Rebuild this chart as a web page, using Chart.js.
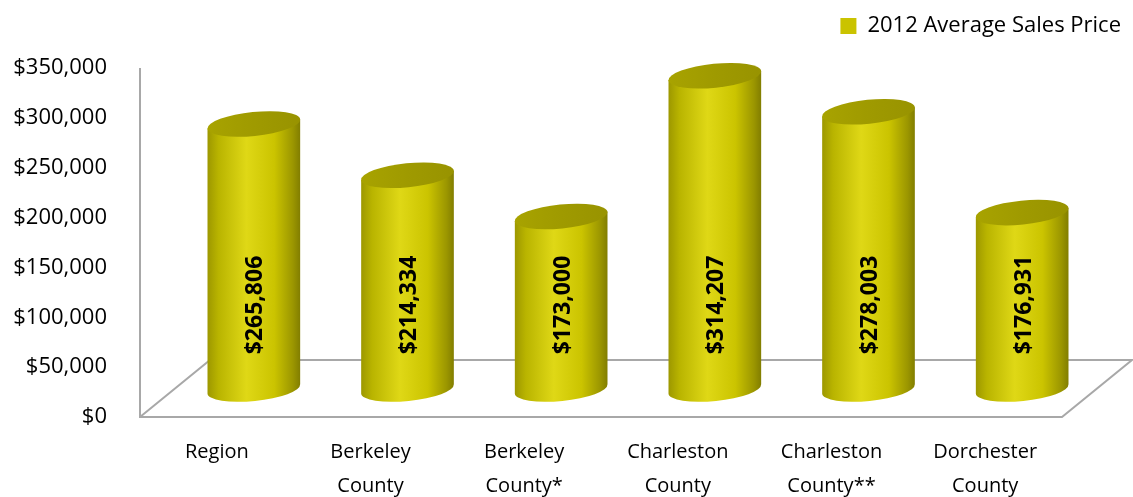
<!DOCTYPE html>
<html>
<head>
<meta charset="utf-8">
<script src="https://cdn.jsdelivr.net/npm/chart.js@4"></script>
<style>
  html, body { margin: 0; background: #fff; }
  #wrap { width: 1133px; height: 497px; }
</style>
</head>
<body>
<div id="wrap"><canvas id="chart"></canvas></div>
<script>
const categories = [
  ['Region'],
  ['Berkeley', 'County'],
  ['Berkeley', 'County*'],
  ['Charleston', 'County'],
  ['Charleston', 'County**'],
  ['Dorchester', 'County']
];
const avgPrice = [265806, 214334, 173000, 314207, 278003, 176931];
const seriesName = '2012 Average Sales Price';
const yMin = 0, yMax = 350000, yStep = 50000;

const money = v => '$' + Number(v).toLocaleString('en-US');
const FONT = '"Open Sans", "Noto Sans", sans-serif';

// draws the 3d floor and the cylinders in place of flat bars
const cylinders = {
  id: 'cylinders',
  beforeDatasetsDraw(chart) {
    const { ctx, scales: { x, y } } = chart;
    const data = chart.data.datasets[0].data;
    const floor = y.getPixelForValue(0);
    const backX = 70, backY = 57;   // depth of the floor
    const midX = 37, midY = 28;     // cylinders stand half way back

    ctx.save();
    ctx.strokeStyle = '#a8a8a8';
    ctx.lineWidth = 2;
    ctx.beginPath();
    ctx.moveTo(x.left, y.top);
    ctx.lineTo(x.left, floor);
    ctx.lineTo(x.right, floor);
    ctx.lineTo(x.right + backX, floor - backY);
    ctx.lineTo(x.left + backX, floor - backY);
    ctx.lineTo(x.left, floor);
    ctx.stroke();

    const step = x.getPixelForValue(1) - x.getPixelForValue(0);
    const rx = step * 0.303, ry = 12, rot = -0.1;
    const ex = rx * Math.cos(rot), ey = rx * Math.sin(rot);

    data.forEach((v, i) => {
      const cx = x.getPixelForValue(i) + midX;
      const by = floor - midY;
      const ty = y.getPixelForValue(v) - midY;

      const g = ctx.createLinearGradient(cx - rx, 0, cx + rx, 0);
      g.addColorStop(0, '#9c9700');
      g.addColorStop(0.12, '#b9b400');
      g.addColorStop(0.42, '#dfd816');
      g.addColorStop(0.72, '#cbc400');
      g.addColorStop(0.92, '#9b9600');
      g.addColorStop(1, '#817d00');
      ctx.fillStyle = g;
      ctx.beginPath();
      ctx.ellipse(cx, by, rx, ry, rot, 0, Math.PI);
      ctx.lineTo(cx - ex, ty - ey);
      ctx.lineTo(cx + ex, ty + ey);
      ctx.closePath();
      ctx.fill();

      const gt = ctx.createLinearGradient(cx - rx, 0, cx + rx, 0);
      gt.addColorStop(0, '#a8a300');
      gt.addColorStop(0.5, '#9f9a00');
      gt.addColorStop(1, '#989300');
      ctx.fillStyle = gt;
      ctx.beginPath();
      ctx.ellipse(cx, ty, rx, ry, rot, 0, Math.PI * 2);
      ctx.fill();

      ctx.save();
      ctx.translate(cx + 2, floor - 112);
      ctx.rotate(-Math.PI / 2);
      ctx.fillStyle = '#000';
      ctx.font = 'bold 23px ' + FONT;
      ctx.textAlign = 'center';
      ctx.textBaseline = 'middle';
      ctx.fillText(money(v), 0, 0);
      ctx.restore();
    });
    ctx.restore();
    return false;
  }
};

new Chart(document.getElementById('chart').getContext('2d'), {
  type: 'bar',
  data: {
    labels: categories,
    datasets: [{
      label: seriesName,
      data: avgPrice,
      backgroundColor: '#cac300',
      borderWidth: 0,
      yAxisID: 'y'
    }]
  },
  options: {
    responsive: true,
    maintainAspectRatio: false,
    animation: false,
    layout: { padding: { top: 3, left: 0, right: 0, bottom: 0 } },
    plugins: {
      legend: {
        position: 'top',
        align: 'end',
        labels: {
          boxWidth: 16,
          boxHeight: 16,
          color: '#000',
          padding: 12,
          font: { family: FONT, size: 22 }
        }
      },
      tooltip: { enabled: false }
    },
    scales: {
      x: {
        grid: { display: false },
        border: { display: false },
        ticks: {
          color: '#000',
          padding: 10,
          maxRotation: 0,
          autoSkip: false,
          font: { family: FONT, size: 20, lineHeight: 1.7 }
        },
        afterFit: s => { s.height = 80; }
      },
      gap: {
        axis: 'x',
        type: 'category',
        position: 'top',
        display: true,
        grid: { display: false },
        border: { display: false },
        ticks: { display: false },
        afterFit: s => { s.height = 21; }
      },
      y: {
        position: 'left',
        min: yMin,
        max: yMax,
        grid: { display: false },
        border: { display: false },
        ticks: {
          stepSize: yStep,
          color: '#000',
          padding: 25,
          font: { family: FONT, size: 22 },
          callback: v => money(v)
        },
        afterFit: s => { s.width = 140; }
      },
      depth: {
        position: 'right',
        display: true,
        grid: { display: false },
        border: { display: false },
        ticks: { display: false },
        afterFit: s => { s.width = 71; }
      }
    }
  },
  plugins: [cylinders]
});
</script>
</body>
</html>
